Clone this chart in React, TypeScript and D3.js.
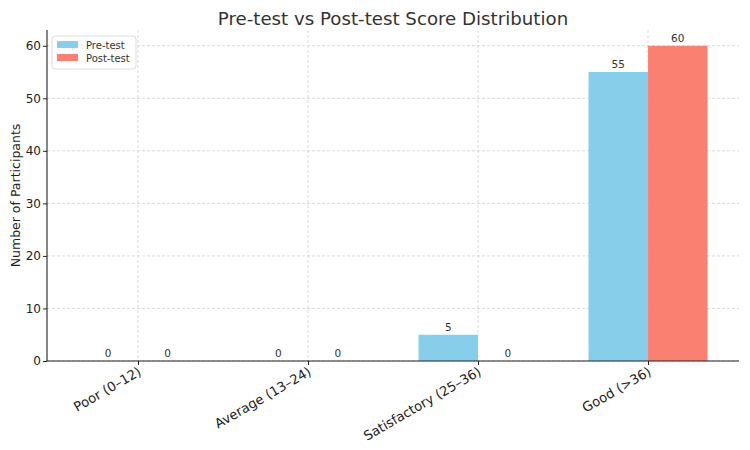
import React, { useEffect, useRef } from 'react';
import * as d3 from 'd3';

const categories = ['Poor (0–12)', 'Average (13–24)', 'Satisfactory (25–36)', 'Good (>36)'];
const preTest = [0, 0, 5, 55];
const postTest = [0, 0, 0, 60];
const seriesNames = ['Pre-test', 'Post-test'];
const yTicks = [0, 10, 20, 30, 40, 50, 60];

const colors = ['#87CEEB', '#FA8072'];

const App = () => {
  const svgRef = useRef<SVGSVGElement>(null);

  useEffect(() => {
    if (!svgRef.current) return;
    const W = 750, H = 450;
    const margin = { top: 30, right: 11, bottom: 89, left: 47 };
    const width = W - margin.left - margin.right;
    const height = H - margin.top - margin.bottom;
    const font = 'DejaVu Sans, sans-serif';

    const svg = d3.select(svgRef.current);
    svg.selectAll('*').remove();

    const barW = 0.35;
    const x = d3.scaleLinear().domain([-0.535, 3.535]).range([0, width]);
    const y = d3.scaleLinear().domain([0, 63]).range([height, 0]);

    const g = svg.append('g').attr('transform', `translate(${margin.left},${margin.top})`);

    // grid
    const grid = g.append('g').attr('stroke', '#cfcfcf').attr('stroke-width', 0.8).attr('stroke-dasharray', '3,2');
    yTicks.forEach(t => {
      grid.append('line').attr('x1', 0).attr('x2', width).attr('y1', y(t)).attr('y2', y(t));
    });
    categories.forEach((_, i) => {
      grid.append('line').attr('x1', x(i)).attr('x2', x(i)).attr('y1', 0).attr('y2', height);
    });

    const series = [preTest, postTest];
    series.forEach((vals, s) => {
      const off = s === 0 ? -barW : 0;
      g.selectAll(`.bar${s}`)
        .data(vals)
        .enter()
        .append('rect')
        .attr('x', (_, i) => x(i + off))
        .attr('y', d => y(d))
        .attr('width', x(barW) - x(0))
        .attr('height', d => height - y(d))
        .attr('fill', colors[s]);
      g.selectAll(`.lbl${s}`)
        .data(vals)
        .enter()
        .append('text')
        .attr('x', (_, i) => x(i + off + barW / 2))
        .attr('y', d => y(d) - 4)
        .attr('text-anchor', 'middle')
        .attr('font-family', font)
        .attr('font-size', 10.5)
        .attr('fill', '#333')
        .text(d => d);
    });

    // axes
    const yAxis = g.append('g').call(d3.axisLeft(y).tickValues(yTicks).tickSize(4).tickPadding(2));
    const xAxis = g.append('g').attr('transform', `translate(0,${height})`)
      .call(d3.axisBottom(x).tickValues(categories.map((_, i) => i)).tickSize(4).tickFormat((_, i) => categories[i]));
    [yAxis, xAxis].forEach(a => {
      a.select('.domain').attr('stroke', '#222').attr('stroke-width', 1.1);
      a.selectAll('.tick line').attr('stroke', '#222');
      a.selectAll('text').attr('font-family', font).attr('fill', '#222');
    });
    yAxis.selectAll('text').attr('font-size', 12);
    xAxis.selectAll('.domain').attr('d', `M0,0H${width}`);
    yAxis.selectAll('.domain').attr('d', `M0,${height}V0`);
    xAxis.selectAll('.tick text')
      .attr('font-size', 13.2)
      .attr('text-anchor', 'end')
      .attr('dy', 0)
      .attr('transform', 'translate(-1,5) rotate(-30)')
      .attr('y', 0)
      .attr('x', 0)
      .attr('dominant-baseline', 'hanging');

    // title
    svg.append('text')
      .attr('x', margin.left + width / 2)
      .attr('y', 25)
      .attr('text-anchor', 'middle')
      .attr('font-family', font)
      .attr('font-size', 18.2)
      .attr('fill', '#333')
      .text('Pre-test vs Post-test Score Distribution');

    svg.append('text')
      .attr('transform', `translate(20,${margin.top + height / 2 + 0}) rotate(-90)`)
      .attr('text-anchor', 'middle')
      .attr('font-family', font)
      .attr('font-size', 12.5)
      .attr('fill', '#222')
      .text('Number of Participants');

    // legend
    const lg = svg.append('g').attr('transform', 'translate(52,36)');
    lg.append('rect').attr('width', 84).attr('height', 33).attr('rx', 3)
      .attr('fill', 'white').attr('fill-opacity', 0.8).attr('stroke', '#ddd');
    seriesNames.forEach((n, i) => {
      lg.append('rect').attr('x', 5).attr('y', 5 + i * 13).attr('width', 21).attr('height', 7).attr('fill', colors[i]);
      lg.append('text').attr('x', 34).attr('y', 12.5 + i * 13)
        .attr('font-family', font).attr('font-size', 10).attr('fill', '#333').text(n);
    });
  }, []);

  return <svg ref={svgRef} width={750} height={450} style={{ position: 'absolute', left: 0, top: 0 }} />;
};

export default App;
